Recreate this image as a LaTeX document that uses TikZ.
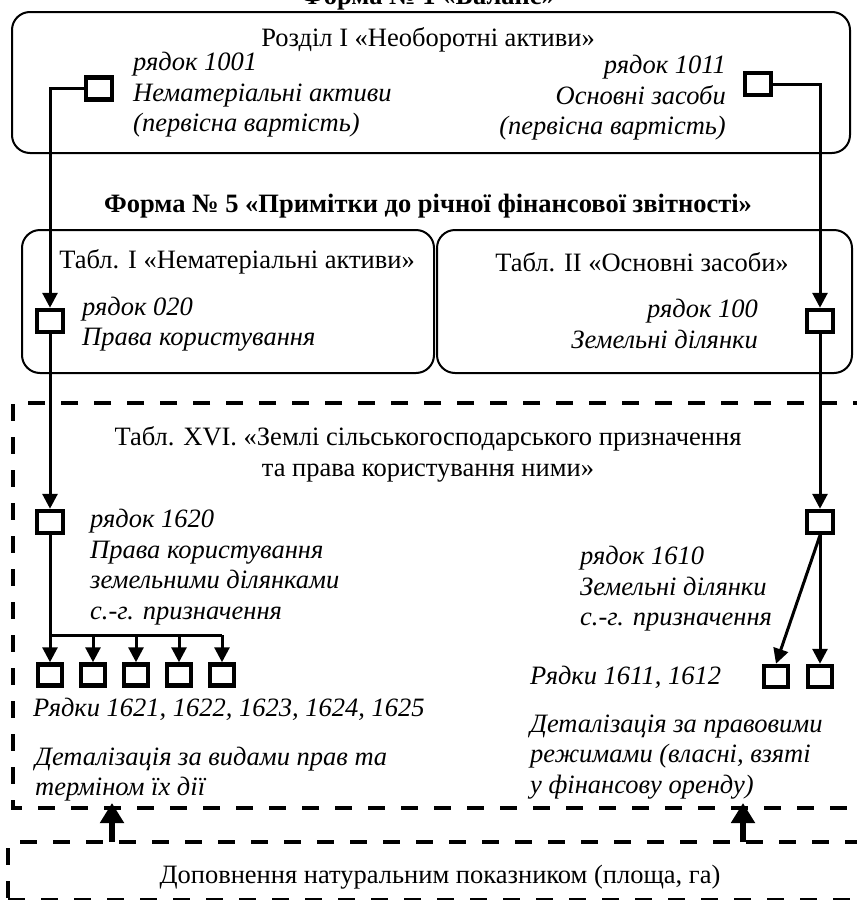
\documentclass[tikz,border=0pt]{standalone}
\usepackage{fontspec}
\setmainfont{Liberation Serif}
\usetikzlibrary{arrows.meta}
\begin{document}
\begin{tikzpicture}[x=1pt,y=-1pt,
  every node/.style={font=\fontsize{26.5}{31}\selectfont, inner sep=0pt},
  it/.style={font=\fontsize{26.5}{30.5}\selectfont\itshape},
  ttl/.style={font=\fontsize{26.5}{31}\selectfont\bfseries},
  rbox/.style={draw, line width=2pt, rounded corners=18pt},
  sq/.style={draw, line width=4.5pt, minimum width=26pt, minimum height=22pt},
  sqs/.style={draw, line width=4.5pt, minimum width=24pt, minimum height=21pt},
  conn/.style={line width=3pt, -{Triangle[length=15pt,width=15pt]}},
  plain/.style={line width=3pt},
  uparr/.style={line width=6pt, -{Triangle[length=20pt,width=23pt]}},
  dsh/.style={line width=4pt, dash pattern=on 17pt off 16pt}
]
\useasboundingbox (0,0) rectangle (857,900);

% Form 1
\node[ttl, anchor=base] (t1) at (428,4) {Форма № 1 «Баланс»};
\draw[rbox] (12,12) rectangle (850,153);
\node (razd) at (428,40) {Розділ I «Необоротні активи»};
\node[sq] (b1001) at (99,88.5) {};
\node[it, anchor=west, align=left] (t1001) at (133,95) {рядок 1001\\Нематеріальні активи\\(первісна вартість)};
\node[sq] (b1011) at (758,84) {};
\node[it, anchor=east, align=right] (t1011) at (726,98) {рядок 1011\\Основні засоби\\(первісна вартість)};

% Form 5
\node[ttl] (t5) at (428,206) {Форма № 5 «Примітки до річної фінансової звітності»};
\draw[rbox] (22,230) rectangle (434,373);
\draw[rbox] (437,230) rectangle (852,373);
\node (tab1) at (237,262) {Табл. I «Нематеріальні активи»};
\node (tab2) at (642,262) {Табл. II «Основні засоби»};
\node[sq] (b020) at (50,321) {};
\node[it, anchor=west, align=left] (t020) at (82,324) {рядок 020\\Права користування};
\node[sq] (b100) at (820,321) {};
\node[it, anchor=east, align=right] (t100) at (758,324) {рядок 100\\Земельні ділянки};

% Table XVI region
\draw[dsh] (870,403) -- (13,403) -- (13,808) -- (870,808);
\node[align=center] (t16) at (428,454) {Табл. XVI. «Землі сільськогосподарського призначення\\та права користування ними»};
\node[sq] (b1620) at (50,522) {};
\node[it, anchor=west, align=left] (t1620) at (90,567) {рядок 1620\\Права користування\\земельними ділянками\\с.-г. призначення};
\node[sq] (b1610) at (820,522) {};
\node[it, anchor=west, align=left] (t1610) at (580,589) {рядок 1610\\Земельні ділянки\\с.-г. призначення};

\foreach \i in {1,...,5} {
  \node[sqs] (r\i) at ({50+43*(\i-1)},675) {};
}
\node[it, anchor=west] (trows) at (33,709) {Рядки 1621, 1622, 1623, 1624, 1625};
\node[it, anchor=west, align=left] (tdet1) at (35,774) {Деталізація за видами прав та\\терміном їх дії};

\node[sqs] (r1611) at (776,676.5) {};
\node[sqs] (r1612) at (820,676.5) {};
\node[it, anchor=west] (trows2) at (530,677) {Рядки 1611, 1612};
\node[it, anchor=west, align=left] (tdet2) at (530,757) {Деталізація за правовими\\режимами (власні, взяті\\у фінансову оренду)};

% bottom region
\draw[dsh] (20,842) -- (870,842);
\draw[dsh] (8,848) -- (8,905);
\draw[dsh] (8,900) -- (870,900);
\node (tdop) at (440,877) {Доповнення натуральним показником (площа, га)};

% connectors
\draw[conn] (b1001.west) -| (b020.north);
\draw[conn] (b1011.east) -| (b100.north);
\draw[conn] (b020.south) -- (b1620.north);
\draw[conn] (b100.south) -- (b1610.north);
\coordinate (hb) at (50,635);
\draw[plain] (b1620.south) -- (hb) -- (hb -| r5.north);
\foreach \i in {1,...,5} {
  \draw[conn] (hb -| r\i.north) -- (r\i.north);
}
\draw[conn] (b1610.south) -- (r1611.north);
\draw[conn] (b1610.south) -- (r1612.north);
\coordinate (u1a) at (112,842);
\coordinate (u1b) at (112,803);
\coordinate (u2a) at (743,842);
\coordinate (u2b) at (743,803);
\draw[uparr] (u1a) -- (u1b);
\draw[uparr] (u2a) -- (u2b);
\end{tikzpicture}
\end{document}
